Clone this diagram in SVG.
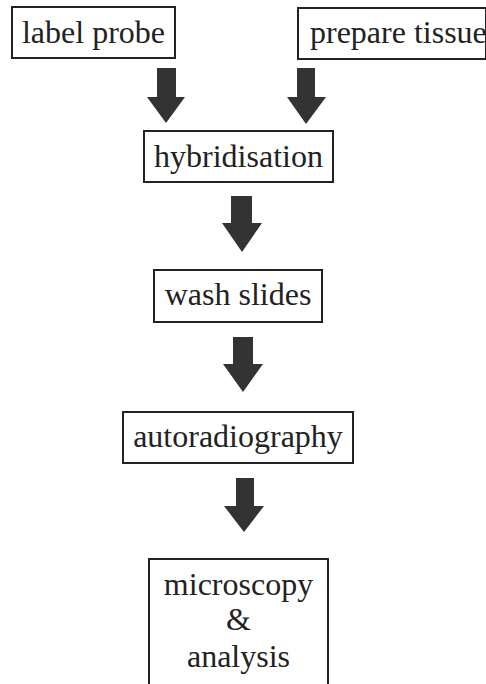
<svg xmlns="http://www.w3.org/2000/svg" width="486" height="684" viewBox="0 0 486 684">
<style>
.box{fill:#fff;stroke:#222;stroke-width:2}
.t{font-size:32px;fill:#222;text-anchor:middle}
.arr{fill:#333}
</style>
<rect width="486" height="684" fill="#fff"/>
<g font-family="'Liberation Serif', 'DejaVu Serif', serif">
<g id="label-probe"><rect class="box" x="12" y="7" width="163" height="51"/><text class="t" x="93.5" y="43">label probe</text></g>
<g id="prepare-tissue"><rect class="box" x="298" y="8" width="188" height="51"/><text class="t" x="310" y="43" text-anchor="start" style="text-anchor:start">prepare tissue</text></g>
<g id="hybridisation"><rect class="box" x="144" y="131" width="189" height="51"/><text class="t" x="238.5" y="167">hybridisation</text></g>
<g id="wash-slides"><rect class="box" x="154" y="270" width="168" height="52"/><text class="t" x="238" y="305">wash slides</text></g>
<g id="autoradiography"><rect class="box" x="123" y="412" width="230" height="51"/><text class="t" x="238" y="447">autoradiography</text></g>
<g id="microscopy-analysis"><rect class="box" x="149" y="559" width="179" height="140"/><text class="t" x="238.5" y="595">microscopy</text><text class="t" x="238.5" y="630">&amp;</text><text class="t" x="238.5" y="667">analysis</text></g>
</g>
<g id="connectors">
<polygon class="arr" points="157,68 176,68 176,97 185,97 166,123 147,97 157,97"/>
<polygon class="arr" points="297,68 315,68 315,97 326,97 306,124 287,97 297,97"/>
<polygon class="arr" points="231,196 252,196 252,223 262,223 242,252 222,223 231,223"/>
<polygon class="arr" points="233,337 253,337 253,364 263,364 243,392 223,364 233,364"/>
<polygon class="arr" points="236,478 254,478 254,506 264,506 244,532 224,506 236,506"/>
</g>
</svg>
